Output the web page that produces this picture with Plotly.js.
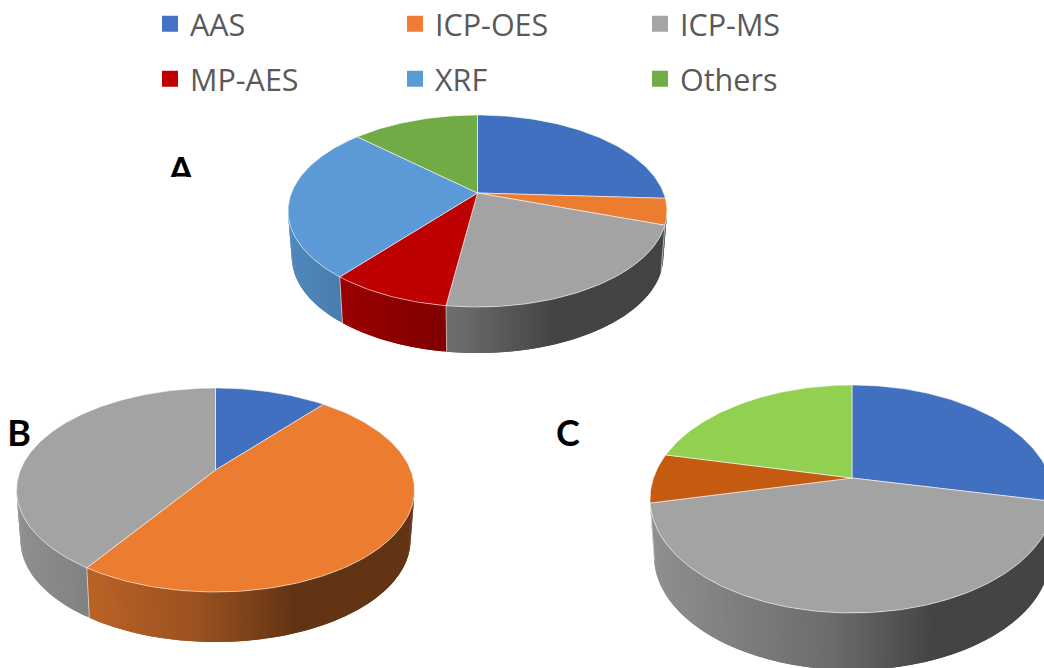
<!DOCTYPE html>
<html>
<head>
<meta charset="utf-8">
<script src="https://cdn.plot.ly/plotly-3.0.1.min.js"></script>
<style>html,body{margin:0;padding:0;background:#fff}</style>
</head>
<body>
<div id="chart" style="width:1044px;height:668px"></div>
<script>
// Legend entries, two rows of three
const legendRow1 = ['AAS', 'ICP-OES', 'ICP-MS'];
const legendRow2 = ['MP-AES', 'XRF', 'Others'];
const legendColorsRow1 = ['#4472C4', '#ED7D31', '#A5A5A5'];
const legendColorsRow2 = ['#C00000', '#5B9BD5', '#70AD47'];

// Share of each technique (percent), clockwise from 12 o'clock
const categoriesA = ['AAS', 'ICP-OES', 'ICP-MS', 'MP-AES', 'XRF', 'Others'];
const valuesA = [25.9, 4.4, 21.9, 8.7, 26.1, 13];
const colorsA = ['#4170C0', '#EB7C30', '#A3A3A3', '#BE0000', '#5B9AD6', '#70AB46'];

const categoriesB = ['AAS', 'ICP-OES', 'ICP-MS'];
const valuesB = [11, 48.3, 40.7];
const colorsB = ['#4170C0', '#EB7C30', '#A3A3A3'];

const categoriesC = ['AAS', 'ICP-MS', 'ICP-OES', 'Others'];
const valuesC = [28.3, 43.2, 7, 21.5];
const colorsC = ['#4170C0', '#A3A3A3', '#C55A11', '#92D050'];

// Panel letters
const panelLetters = ['A', 'B', 'C'];

// Perspective disc: apex pixel, reach towards far / near rim, half width, wall depth
function disc(ax, ay, far, near, half, depth) {
  const c = (far - near) / (far + near);
  return {ax, ay, c, A: near * (1 + c), X: half * Math.sqrt(1 - c * c), half, depth};
}
const discA = disc(477.5, 193, 78, 114, 189.5, 46);
const discB = disc(215.5, 470, 82, 122, 199, 50);
const discC = disc(852, 478, 93, 135, 202, 57);

function rim(d, deg) {
  const a = deg * Math.PI / 180, sx = Math.sin(a), sy = -Math.cos(a), w = 1 + d.c * sy;
  return [d.ax + d.X * sx / w, d.ay + d.A * sy / w];
}
function lower(d, p) {
  return [d.ax + (p[0] - d.ax) * 0.98, p[1] + d.depth];
}

// Side wall shading runs left to right across the disc
const shadeAt = [[0, 0.88], [0.45, 0.66], [0.7, 0.42], [1, 0.42]];
function shade(hex, t) {
  let f = shadeAt[shadeAt.length - 1][1];
  for (let i = 1; i < shadeAt.length; i++) {
    if (t <= shadeAt[i][0]) {
      const [t0, f0] = shadeAt[i - 1], [t1, f1] = shadeAt[i];
      f = f0 + (f1 - f0) * (t - t0) / (t1 - t0);
      break;
    }
  }
  const n = parseInt(hex.slice(1), 16);
  return `rgb(${Math.round((n >> 16) * f)},${Math.round(((n >> 8) & 255) * f)},${Math.round((n & 255) * f)})`;
}

function poly(xy, fill, line, width) {
  return {
    type: 'scatter', mode: 'lines', fill: 'toself', fillcolor: fill,
    x: xy.map(p => p[0]), y: xy.map(p => p[1]),
    line: {color: line, width: width}, showlegend: false, hoverinfo: 'skip'
  };
}

function pieTraces(names, values, colors, d) {
  const total = values.reduce((s, v) => s + v, 0);
  const walls = [], edges = [], tops = [];
  const limit = Math.acos(-d.c) * 180 / Math.PI;   // polar angle of the silhouette, from the near pole
  const fromDeg = 180 - limit, toDeg = 180 + limit;
  const ends = [];
  values.reduce((s, v) => { ends.push(s + v / total * 360); return ends[ends.length - 1]; }, 0);
  values.forEach((v, i) => {
    const start = i ? ends[i - 1] : 0, end = ends[i];
    const lo = Math.max(start, fromDeg), hi = Math.min(end, toDeg);
    // a sliver of wall at the silhouette takes its neighbour's colour
    let wallColor = colors[i];
    if (hi > lo && hi - lo < 10) {
      wallColor = (lo + hi) / 2 < 180 ? colors[i + 1] : colors[i - 1];
    }
    // side wall, built from overlapping strips so no seams show
    for (let a = lo; a < hi; a += 1) {
      const b = Math.min(a + 1, hi), over = Math.min(a + 2, hi);
      const p = rim(d, a), q = rim(d, b), r = rim(d, over);
      const t = ((p[0] + q[0]) / 2 - (d.ax - d.half)) / (2 * d.half);
      walls.push(poly([p, r, lower(d, r), lower(d, p), p], shade(wallColor, t), 'rgba(0,0,0,0)', 0));
    }
    // light seam where two wedges meet on the wall
    if (start > fromDeg && start < toDeg) {
      const p = rim(d, start), q = lower(d, p);
      edges.push({type: 'scatter', mode: 'lines', x: [p[0], q[0]], y: [p[1], q[1]],
        line: {color: 'rgba(255,255,255,0.55)', width: 1}, showlegend: false, hoverinfo: 'skip'});
    }
    // top face of the wedge
    const outline = [[d.ax, d.ay]];
    for (let a = start; a < end; a += 1) outline.push(rim(d, a));
    outline.push(rim(d, end), [d.ax, d.ay]);
    const top = poly(outline, colors[i], 'rgba(255,255,255,0.55)', 1);
    top.name = names[i];
    tops.push(top);
  });
  return walls.concat(edges, tops);
}

const traces = [].concat(
  pieTraces(categoriesA, valuesA, colorsA, discA),
  pieTraces(categoriesB, valuesB, colorsB, discB),
  pieTraces(categoriesC, valuesC, colorsC, discC)
);

// Legend keys
legendRow1.forEach((n, i) => traces.push({type: 'scatter', mode: 'markers', x: [null], y: [null], name: n,
  marker: {symbol: 'square', size: 16, color: legendColorsRow1[i]}, legend: 'legend'}));
legendRow2.forEach((n, i) => traces.push({type: 'scatter', mode: 'markers', x: [null], y: [null], name: n,
  marker: {symbol: 'square', size: 16, color: legendColorsRow2[i]}, legend: 'legend2'}));

// Panel letters
traces.push({type: 'scatter', mode: 'text', x: [181, 19, 568], y: [174, 437, 437], text: panelLetters,
  textposition: 'middle center', showlegend: false, hoverinfo: 'skip', cliponaxis: false,
  textfont: {family: 'Lato, sans-serif', size: 36, color: '#000', weight: 700}});

const legendCommon = {
  orientation: 'h', xanchor: 'left', yanchor: 'middle', x: 150 / 1044,
  entrywidth: 200, entrywidthmode: 'pixels', bgcolor: 'rgba(0,0,0,0)', borderwidth: 0,
  font: {family: 'Open Sans, sans-serif', size: 30.5, color: '#595959'}
};

const layout = {
  width: 1044, height: 668,
  margin: {l: 0, r: 0, t: 0, b: 0, pad: 0, autoexpand: false},
  paper_bgcolor: '#fff', plot_bgcolor: '#fff',
  showlegend: true,
  legend: Object.assign({}, legendCommon, {y: 1 - 24 / 668}),
  legend2: Object.assign({}, legendCommon, {y: 1 - 79 / 668}),
  xaxis: {range: [0, 1044], visible: false, fixedrange: true},
  yaxis: {range: [668, 0], visible: false, fixedrange: true},
  // the letter A sits against a cropped edge in the figure
  shapes: [{type: 'rect', layer: 'above', xref: 'x', yref: 'y', x0: 160, x1: 205, y0: 177, y1: 197,
    fillcolor: '#fff', line: {width: 0}}]
};

Plotly.newPlot('chart', traces, layout, {displayModeBar: false, staticPlot: true});
</script>
</body>
</html>
